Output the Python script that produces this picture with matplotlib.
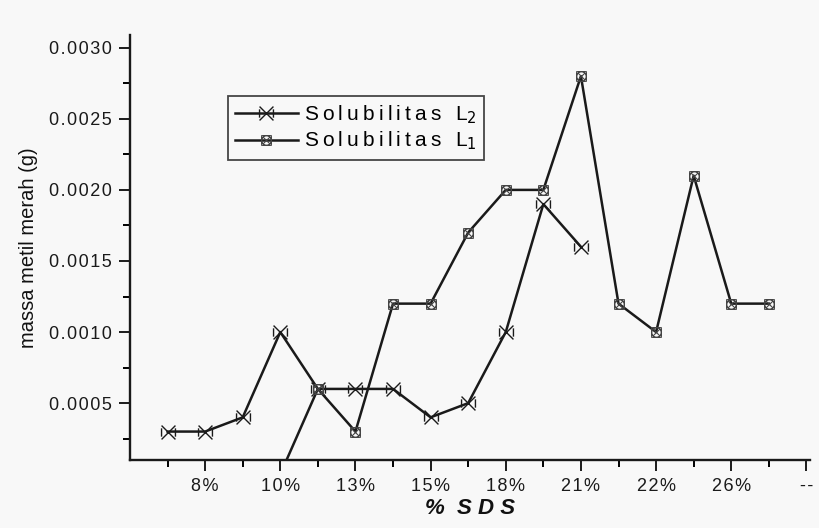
import numpy as np
import matplotlib.pyplot as plt
from matplotlib.path import Path
from matplotlib.ticker import MultipleLocator, FixedLocator

plt.rcParams['font.family'] = ['Liberation Sans', 'DejaVu Sans']

# posisi kategori (indeks) dan label sumbu x
pos_l2 = [1, 2, 3, 4, 5, 6, 7, 8, 9, 10, 11, 12]
massa_l2 = [0.0003, 0.0003, 0.0004, 0.0010, 0.0006, 0.0006, 0.0006,
            0.0004, 0.0005, 0.0010, 0.0019, 0.0016]

pos_l1 = [4, 5, 6, 7, 8, 9, 10, 11, 12, 13, 14, 15, 16, 17]
massa_l1 = [0.0000, 0.0006, 0.0003, 0.0012, 0.0012, 0.0017, 0.0020,
            0.0020, 0.0028, 0.0012, 0.0010, 0.0021, 0.0012, 0.0012]

xtick_pos = [2, 4, 6, 8, 10, 12, 14, 16, 18]
xtick_lbl = ['8%', '10%', '13%', '15%', '18%', '21%', '22%', '26%', '--']


def spaced(s, gap='\u200a'):
    # huruf direnggangkan seperti keluaran Origin
    return gap.join(s)


# simbol "bowtie" ala Origin: X dengan garis tegak di kedua sisi
bow = Path([(-1, -1), (1, 1), (-1, 1), (1, -1),
            (-1, -0.6), (-1, 0.6), (1, -0.6), (1, 0.6)],
           [Path.MOVETO, Path.LINETO, Path.MOVETO, Path.LINETO,
            Path.MOVETO, Path.LINETO, Path.MOVETO, Path.LINETO])
# lingkaran bersilang di dalam kotak kecil
circ = Path.unit_circle()
crossbox = Path.make_compound_path(
    circ,
    Path([(-0.7, -0.7), (0.7, 0.7), (-0.7, 0.7), (0.7, -0.7)],
         [Path.MOVETO, Path.LINETO, Path.MOVETO, Path.LINETO]),
    Path([(-1, -1), (1, -1), (1, 1), (-1, 1), (-1, -1)],
         [Path.MOVETO, Path.LINETO, Path.LINETO, Path.LINETO, Path.CLOSEPOLY]))

bg = '#f8f8f8'
ink = '#1a1a1a'
fig = plt.figure(figsize=(8.2, 5.28), dpi=100, facecolor=bg)
ax = fig.add_axes([0.1585, 0.1288, 0.8295, 0.805], facecolor=bg)

ax.plot(pos_l2, massa_l2, color=ink, lw=1.8, marker=bow, ms=10,
        mew=1.0, mfc='none', mec=ink,
        label=spaced('Solubilitas L', '\u2009') + '$_2$')
ax.plot(pos_l1, massa_l1, color=ink, lw=1.8, marker=crossbox, ms=7,
        mew=0.8, mfc='none', mec='#444444',
        label=spaced('Solubilitas L', '\u2009') + '$_1$')

ax.set_xlim(0, 18.1)
ax.set_ylim(0.0001, 0.00309)

ax.xaxis.set_major_locator(FixedLocator(xtick_pos))
ax.set_xticklabels([spaced(t) for t in xtick_lbl])
ax.xaxis.set_minor_locator(FixedLocator([1, 3, 5, 7, 9, 11, 13, 15, 17]))
ax.yaxis.set_major_locator(MultipleLocator(0.0005))
ax.yaxis.set_minor_locator(MultipleLocator(0.00025))
ax.yaxis.set_major_formatter(
    plt.FuncFormatter(lambda v, p: spaced(f'{v:.4f}')))

ax.tick_params(which='major', direction='out', length=8, width=1.4,
               labelsize=13, colors=ink, pad=5)
ax.tick_params(which='minor', direction='out', length=5, width=1.4)

for s in ['top', 'right']:
    ax.spines[s].set_visible(False)
for s in ['left', 'bottom']:
    ax.spines[s].set_linewidth(1.7)
    ax.spines[s].set_color(ink)

ax.set_xlabel('%  S D S', fontsize=16, fontstyle='italic', fontweight='bold',
              labelpad=2, color='#111111')
ax.set_ylabel('massa metil merah (g)', fontsize=14.5, labelpad=8,
              color='#111111')

leg = ax.legend(loc='upper left', bbox_to_anchor=(0.144, 0.857),
                borderaxespad=0, fontsize=15, frameon=True, fancybox=False,
                edgecolor=ink, facecolor=bg, handlelength=3.0,
                borderpad=0.35, labelspacing=0.2, handletextpad=0.3)
leg.get_frame().set_linewidth(1.3)

fig.savefig('out.png', dpi=100, facecolor=bg)
